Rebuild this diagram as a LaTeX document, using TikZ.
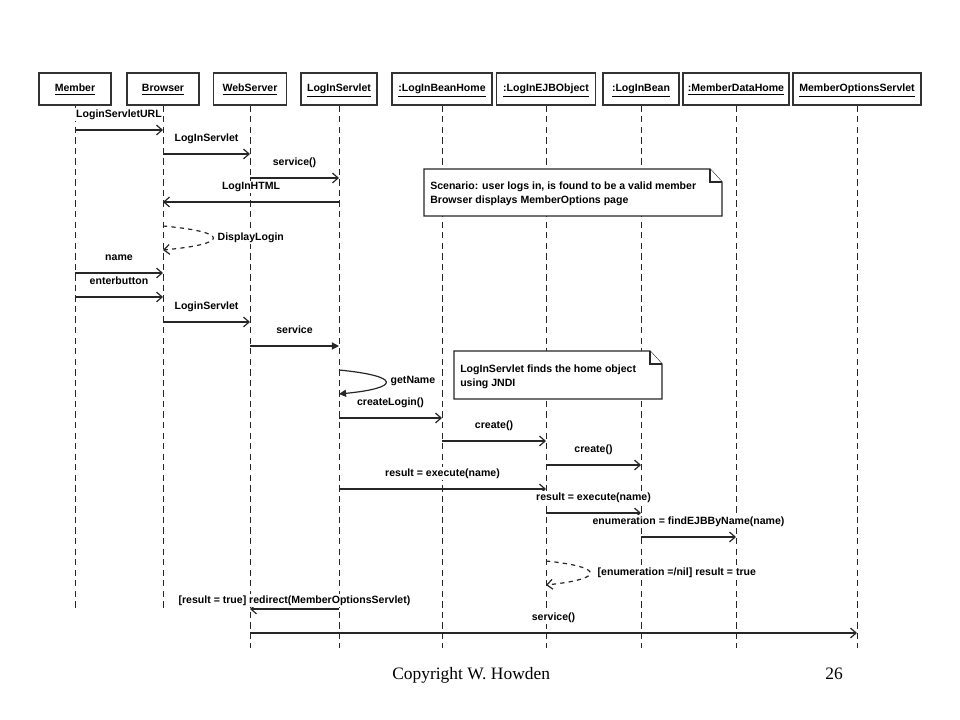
\documentclass[tikz,border=0pt]{standalone}
\usepackage{fontspec}
\setmainfont{Liberation Sans}
\newfontfamily\footfont{Liberation Serif}
\usetikzlibrary{arrows.meta}

\begin{document}
\begin{tikzpicture}[x=0.025cm,y=-0.025cm]
	% Styles
	\tikzset{obj/.style={draw=black!80, fill=white, line width=0.8pt, minimum height=0.8cm, inner sep=1pt, text height=6pt, text depth=2pt, font=\bfseries\fontsize{7.5}{9}\selectfont}}
	\tikzset{life/.style={draw=black!85, line width=0.7pt, dash pattern=on 4.5pt off 3pt}}
	\tikzset{msg/.style={draw=black!85, line width=0.85pt, -{Straight Barb[length=4pt,width=7pt]}}}
	\tikzset{sync/.style={draw=black!85, line width=0.85pt, -{Triangle[length=5pt,width=5pt]}}}
	\tikzset{lbl/.style={font=\bfseries\fontsize{7.5}{9}\selectfont, fill=white, inner sep=1pt, text depth=1.6pt}}
	\tikzset{msglbl/.style={lbl, above=6pt}}
	\tikzset{sidelbl/.style={lbl, anchor=west}}
	\tikzset{memo/.style={draw=black!85, fill=white, line width=0.8pt, line join=miter}}
	\tikzset{memotext/.style={font=\bfseries\fontsize{7.5}{9.6}\selectfont, align=left, inner sep=0pt, anchor=north west}}
	\tikzset{foot/.style={font=\footfont\fontsize{12.4}{14}\selectfont, inner sep=0pt, anchor=base west}}

	\useasboundingbox (0,0) rectangle (960,720);

	% Objects
	\node[obj, minimum width=1.8cm]  (member)   at (75,89)  {\underline{Member}};
	\node[obj, minimum width=1.8cm]  (browser)  at (163,89) {\underline{Browser}};
	\node[obj, minimum width=1.83cm] (webserver) at (250,89) {\underline{WebServer}};
	\node[obj, minimum width=1.9cm]  (servlet)  at (339,89) {\underline{LogInServlet}};
	\node[obj, minimum width=2.5cm]  (beanhome) at (442,89) {\underline{:LogInBeanHome}};
	\node[obj, minimum width=2.47cm] (ejbobj)   at (546,89) {\underline{:LogInEJBObject}};
	\node[obj, minimum width=1.9cm]  (bean)     at (641,89) {\underline{:LogInBean}};
	\node[obj, minimum width=2.65cm] (datahome) at (736,89) {\underline{:MemberDataHome}};
	\node[obj, minimum width=3.2cm]  (options)  at (857,89) {\underline{MemberOptionsServlet}};

	% Lifelines
	\draw[life] (member.south) -- (member.south |- 0,610);
	\draw[life] (browser.south) -- (browser.south |- 0,610);
	\draw[life] (webserver.south) -- (webserver.south |- 0,648);
	\draw[life] (servlet.south) -- (servlet.south |- 0,648);
	\draw[life] (beanhome.south) -- (beanhome.south |- 0,648);
	\draw[life] (ejbobj.south) -- (ejbobj.south |- 0,648);
	\draw[life] (bean.south) -- (bean.south |- 0,648);
	\draw[life] (datahome.south) -- (datahome.south |- 0,648);
	\draw[life] (options.south) -- (options.south |- 0,648);

	% Notes
	\draw[memo] (424,169) -- (710,169) -- (722,182) -- (722,216) -- (424,216) -- cycle;
	\draw[memo] (710,169) -- (710,182) -- (722,182);
	\node[memotext] (scenario) at (430,182) {Scenario: user logs in, is found to be a valid member\\Browser displays MemberOptions page};

	\draw[memo] (454,351) -- (650,351) -- (662,364) -- (662,399) -- (454,399) -- cycle;
	\draw[memo] (650,351) -- (650,364) -- (662,364);
	\node[memotext] (jndi) at (460,365) {LogInServlet finds the home object\\using JNDI};

	% Messages
	\draw[msg] (member |- 0,130) -- node[msglbl] {LoginServletURL} (browser |- 0,130);
	\draw[msg] (browser |- 0,154) -- node[msglbl] {LogInServlet} (webserver |- 0,154);
	\draw[msg] (webserver |- 0,178) -- node[msglbl] {service()} (servlet |- 0,178);
	\draw[msg] (servlet |- 0,202) -- node[msglbl] {LogInHTML} (browser |- 0,202);
	\draw[msg, dashed] (browser |- 0,226) .. controls +(67,6) and +(67,-6) .. (browser |- 0,250);
	\node[sidelbl] (displaylogin) at (216,238) {DisplayLogin};
	\draw[msg] (member |- 0,273) -- node[msglbl] {name} (browser |- 0,273);
	\draw[msg] (member |- 0,297) -- node[msglbl] {enterbutton} (browser |- 0,297);
	\draw[msg] (browser |- 0,322) -- node[msglbl] {LoginServlet} (webserver |- 0,322);
	\draw[sync] (webserver |- 0,346) -- node[msglbl] {service} (servlet |- 0,346);
	\draw[sync] (servlet |- 0,370) .. controls +(62,6) and +(62,-6) .. (servlet |- 0,394);
	\node[sidelbl] (getname) at (389,381) {getName};
	\draw[msg] (servlet |- 0,418) -- node[msglbl] {createLogin()} (beanhome |- 0,418);
	\draw[msg] (beanhome |- 0,441) -- node[msglbl] {create()} (ejbobj |- 0,441);
	\draw[msg] (ejbobj |- 0,465) -- node[msglbl] {create()} (bean |- 0,465);
	\draw[msg] (servlet |- 0,489) -- node[msglbl] {result = execute(name)} (ejbobj |- 0,489);
	\draw[msg] (ejbobj |- 0,513) -- node[msglbl] {result = execute(name)} (bean |- 0,513);
	\draw[msg] (bean |- 0,537) -- node[msglbl] {enumeration = findEJBByName(name)} (datahome |- 0,537);
	\draw[msg, dashed] (ejbobj |- 0,561) .. controls +(59,6) and +(59,-6) .. (ejbobj |- 0,585);
	\node[sidelbl] (enumtrue) at (596,573) {[enumeration =/nil] result = true};
	\draw[msg] (servlet |- 0,609) -- node[lbl, above=1pt] {[result = true] redirect(MemberOptionsServlet)} (webserver |- 0,609);
	\draw[msg] (webserver |- 0,633) -- node[msglbl] {service()} (options |- 0,633);

	% Footer
	\node[foot] (copyright) at (392,679) {Copyright W. Howden};
	\node[foot] (pagenum) at (825,679) {26};
\end{tikzpicture}
\end{document}
